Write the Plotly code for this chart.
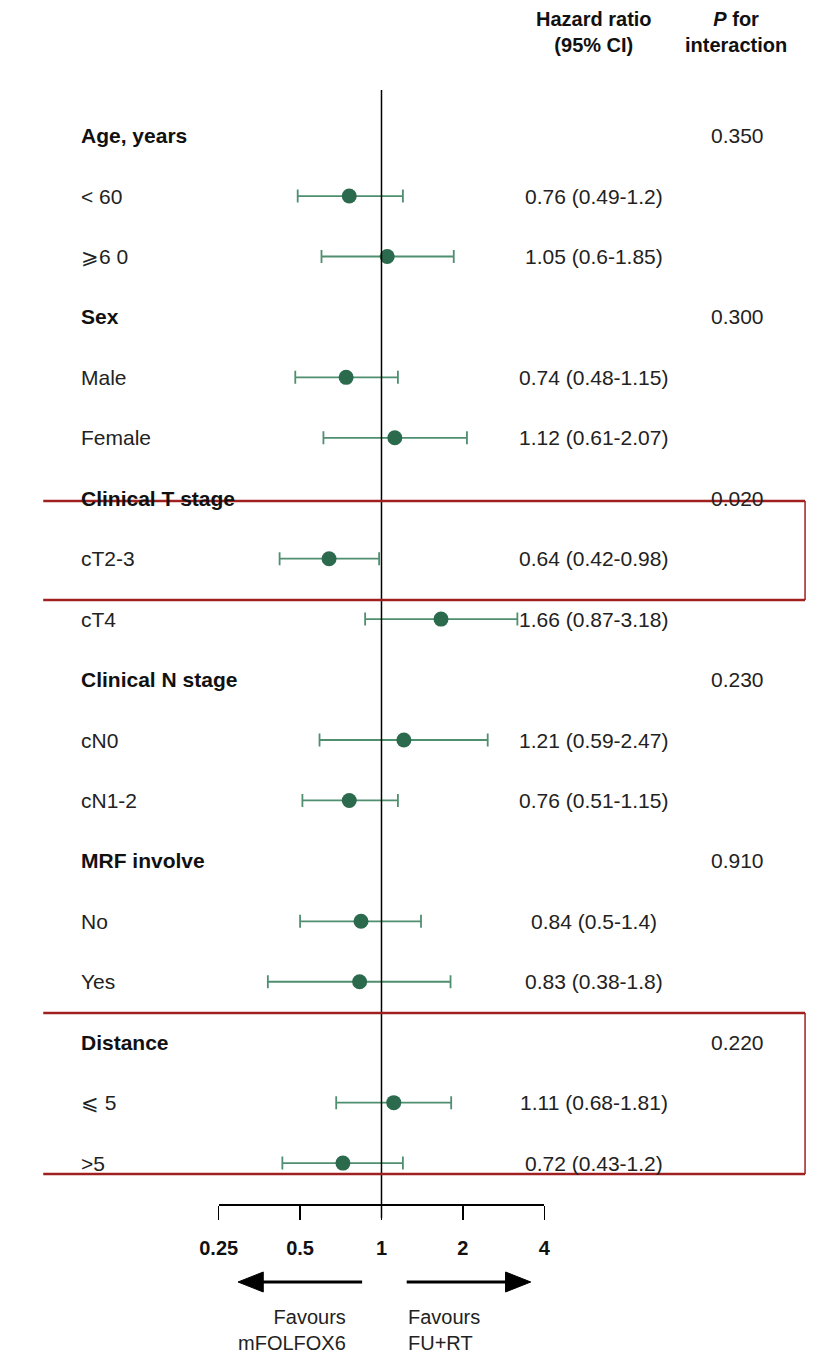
import plotly.graph_objects as go

# ---------------- data ----------------
groups = ["Age, years", "Sex", "Clinical T stage", "Clinical N stage", "MRF involve", "Distance"]
p_interaction = ["0.350", "0.300", "0.020", "0.230", "0.910", "0.220"]
subgroups = ["< 60", "⩾6 0", "Male", "Female", "cT2-3", "cT4",
             "cN0", "cN1-2", "No", "Yes", "⩽ 5", ">5"]
hr = [0.76, 1.05, 0.74, 1.12, 0.64, 1.66, 1.21, 0.76, 0.84, 0.83, 1.11, 0.72]
ci_low = [0.49, 0.6, 0.48, 0.61, 0.42, 0.87, 0.59, 0.51, 0.5, 0.38, 0.68, 0.43]
ci_high = [1.2, 1.85, 1.15, 2.07, 0.98, 3.18, 2.47, 1.15, 1.4, 1.8, 1.81, 1.2]
axis_ticks = [0.25, 0.5, 1, 2, 4]
axis_ticktext = ["0.25", "0.5", "1", "2", "4"]
favour_left = "Favours<br>mFOLFOX6"
favour_right = "Favours<br>FU+RT"

# ---------------- layout helpers ----------------
W, H = 813, 1360
FONT = "Liberation Sans, Arial, sans-serif"
FS = 21
def px(x):
    return x / W
def py(y):
    return 1 - y / H

# row positions: group header at 3g, subgroups at 3g+1, 3g+2
group_rows = [3 * g for g in range(len(groups))]
sub_rows = [3 * (i // 2) + 1 + (i % 2) for i in range(len(subgroups))]

row0_px, row_step = 135.6, 60.44
y_top = -row0_px / row_step
y_bot = (H - row0_px) / row_step

fig = go.Figure()

# CI + point estimates
fig.add_trace(go.Scatter(
    x=hr, y=sub_rows, mode="markers",
    marker=dict(size=15, color="#2B6A4C"),
    error_x=dict(type="data", symmetric=False,
                 array=[h - x for x, h in zip(hr, ci_high)],
                 arrayminus=[x - l for x, l in zip(hr, ci_low)],
                 color="#4F8F70", thickness=1.8, width=6.5),
    hoverinfo="skip", showlegend=False, cliponaxis=False,
))

# invisible trace for the bottom scale axis
fig.add_trace(go.Scatter(x=axis_ticks, y=[0] * len(axis_ticks), xaxis="x2", yaxis="y",
                         mode="markers", marker=dict(opacity=0), hoverinfo="skip",
                         showlegend=False))

ann = []
# group labels + p values
for g, r in zip(groups, group_rows):
    ann.append(dict(x=px(62), y=r, xref="paper", yref="y", text="<b>%s</b>" % g,
                    xanchor="left", yanchor="middle", showarrow=False,
                    font=dict(size=FS, family=FONT, color="#111")))
for p, r in zip(p_interaction, group_rows):
    ann.append(dict(x=px(741), y=r, xref="paper", yref="y", text=p,
                    xanchor="center", yanchor="middle", showarrow=False,
                    font=dict(size=FS, family=FONT, color="#222")))
# subgroup labels + HR text
for s, r in zip(subgroups, sub_rows):
    ann.append(dict(x=px(62), y=r, xref="paper", yref="y", text=s,
                    xanchor="left", yanchor="middle", showarrow=False,
                    font=dict(size=FS, family=FONT, color="#222")))
for h, l, u, r in zip(hr, ci_low, ci_high, sub_rows):
    ann.append(dict(x=px(593), y=r, xref="paper", yref="y",
                    text="%s (%s-%s)" % (h, l, u),
                    xanchor="center", yanchor="middle", showarrow=False,
                    font=dict(size=FS, family=FONT, color="#222")))
# headers
ann.append(dict(x=px(593), y=py(32), xref="paper", yref="paper",
                text="<b>Hazard ratio</b><br><b>(95% CI)</b>", align="center",
                xanchor="center", yanchor="middle", showarrow=False,
                font=dict(size=20, family=FONT, color="#111")))
ann.append(dict(x=px(740), y=py(32), xref="paper", yref="paper",
                text="<b><i>P</i> for</b><br><b>interaction</b>", align="center",
                xanchor="center", yanchor="middle", showarrow=False,
                font=dict(size=20, family=FONT, color="#111")))
# favours texts
ann.append(dict(x=px(339), y=py(1330), xref="paper", yref="paper",
                text=favour_left, align="right", xanchor="right", yanchor="middle",
                showarrow=False, font=dict(size=20, family=FONT, color="#222")))
ann.append(dict(x=px(399), y=py(1330), xref="paper", yref="paper",
                text=favour_right, align="left", xanchor="left", yanchor="middle",
                showarrow=False, font=dict(size=20, family=FONT, color="#222")))

shapes = []
# reference line at HR = 1
shapes.append(dict(type="line", xref="x", yref="paper", x0=1, x1=1,
                   y0=py(1218), y1=py(90), line=dict(color="black", width=1.5)))
# red highlight boxes
RED = "#A02020"
for top, bot in [(501, 600), (1013, 1174)]:
    shapes.append(dict(type="line", xref="paper", yref="paper", x0=px(25), x1=px(811),
                       y0=py(top), y1=py(top), line=dict(color=RED, width=2.5)))
    shapes.append(dict(type="line", xref="paper", yref="paper", x0=px(25), x1=px(811),
                       y0=py(bot), y1=py(bot), line=dict(color=RED, width=2.5)))
    shapes.append(dict(type="line", xref="paper", yref="paper", x0=px(811), x1=px(811),
                       y0=py(top), y1=py(bot), line=dict(color=RED, width=1.5)))
# arrows
ay = 1282
shapes.append(dict(type="line", xref="paper", yref="paper", x0=px(354), x1=px(245),
                   y0=py(ay), y1=py(ay), line=dict(color="black", width=3)))
shapes.append(dict(type="path", xref="paper", yref="paper",
                   path="M %f %f L %f %f L %f %f Z" % (px(226), py(ay), px(252), py(ay - 10),
                                                     px(252), py(ay + 10)),
                   fillcolor="black", line=dict(color="black", width=1)))
shapes.append(dict(type="line", xref="paper", yref="paper", x0=px(400), x1=px(508),
                   y0=py(ay), y1=py(ay), line=dict(color="black", width=3)))
shapes.append(dict(type="path", xref="paper", yref="paper",
                   path="M %f %f L %f %f L %f %f Z" % (px(528), py(ay), px(502), py(ay - 10),
                                                     px(502), py(ay + 10)),
                   fillcolor="black", line=dict(color="black", width=1)))

fig.update_layout(
    width=W, height=H,
    margin=dict(l=0, r=0, t=0, b=0),
    paper_bgcolor="white", plot_bgcolor="rgba(0,0,0,0)",
    showlegend=False,
    xaxis=dict(type="log", range=[-1.3403, 1.5733], visible=False, domain=[0, 1]),
    xaxis2=dict(type="log", range=[-0.60206, 0.60206], domain=[px(206), px(542)],
                anchor="free", position=py(1204), side="bottom",
                showline=True, linecolor="black", linewidth=1.5,
                ticks="outside", ticklen=14, tickwidth=1.5, tickcolor="black",
                tickvals=axis_ticks, ticktext=["<b>%s</b>" % t for t in axis_ticktext],
                tickfont=dict(size=20, family=FONT, color="#111"),
                ticklabelstandoff=11, showgrid=False, zeroline=False),
    yaxis=dict(range=[y_bot, y_top], visible=False, domain=[0, 1]),
    annotations=ann, shapes=shapes,
)

fig.write_html(
    "out.html",
    config={"displayModeBar": False, "staticPlot": True},
    post_script="document.body.style.margin='0';document.body.style.overflow='hidden';",
)
